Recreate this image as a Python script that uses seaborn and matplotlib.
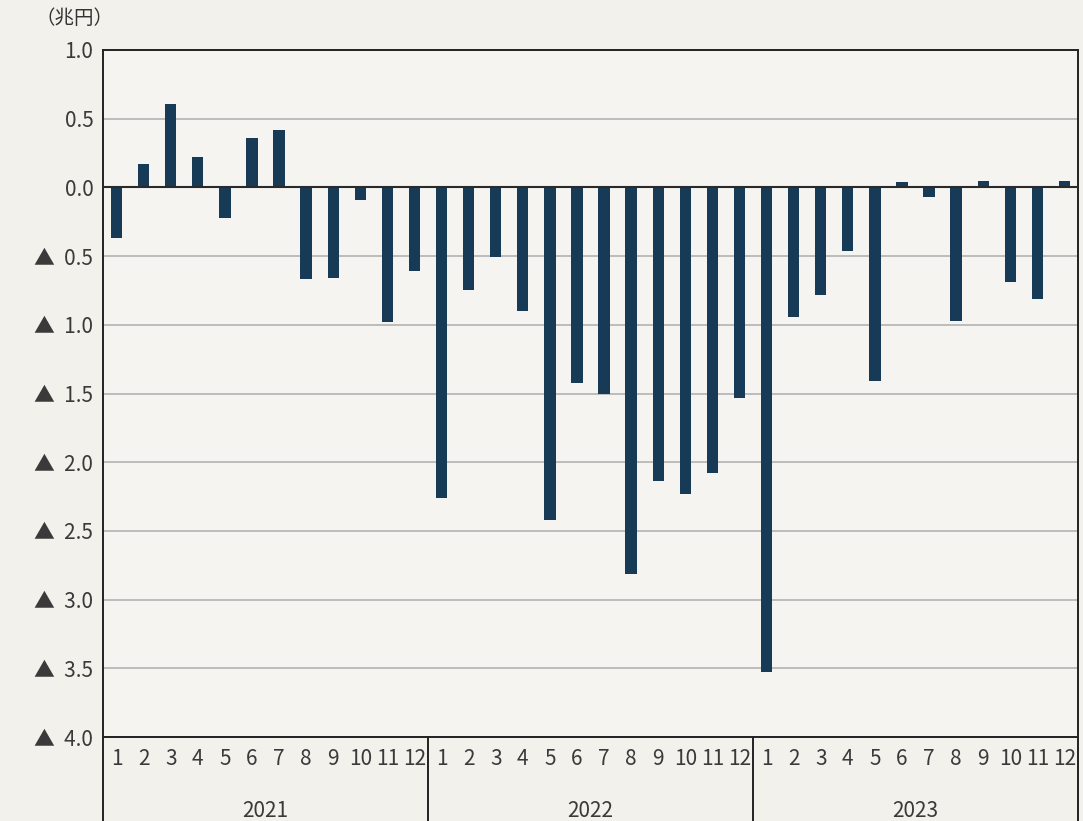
import numpy as np
import pandas as pd
import seaborn as sns
from matplotlib import pyplot as plt
from matplotlib import transforms

# monthly values (trillion yen), 2021-01 .. 2023-12
years = ['2021', '2022', '2023']
months = [str(m) for m in range(1, 13)]
v2021 = [-0.37, 0.17, 0.61, 0.22, -0.22, 0.36, 0.42, -0.67, -0.66, -0.09, -0.98, -0.61]
v2022 = [-2.26, -0.75, -0.51, -0.90, -2.42, -1.42, -1.50, -2.81, -2.14, -2.23, -2.08, -1.53]
v2023 = [-3.53, -0.94, -0.78, -0.46, -1.41, 0.04, -0.07, -0.97, 0.05, -0.69, -0.81, 0.05]
yticks = [1.0, 0.5, 0.0, -0.5, -1.0, -1.5, -2.0, -2.5, -3.0, -3.5, -4.0]

sns.set_theme(style='white')
plt.rcParams['font.family'] = ['Noto Sans CJK JP', 'DejaVu Sans']

df = pd.DataFrame({
    'idx': np.arange(36),
    'value': v2021 + v2022 + v2023,
})

bg = '#f2f1ec'
fig = plt.figure(figsize=(10.83, 8.21), dpi=100, facecolor=bg)
ax = fig.add_axes([0.0951, 0.1023, 0.9003, 0.8368])
ax.set_facecolor('#f5f4f0')

for y in yticks:
    ax.axhline(y, color='#b8b8b8', lw=1.3, zorder=0)

sns.barplot(data=df, x='idx', y='value', color='#173a56', saturation=1,
            width=0.42, linewidth=0, ax=ax, zorder=2)
ax.axhline(0, color='#2a2a2a', lw=1.5, zorder=3)

ax.set_xlim(-0.5, 35.5)
ax.set_ylim(-4.0, 1.0)
ax.set_yticks(yticks)
ylabels = []
for y in yticks:
    if y < 0:
        ylabels.append('▲  {:.1f}'.format(-y))
    else:
        ylabels.append('{:.1f}'.format(y))
ax.set_yticklabels(ylabels, fontsize=15, color='#3a3a3a')
ax.set_xticks(range(36))
ax.set_xticklabels(months * 3, fontsize=15, color='#3a3a3a')
ax.tick_params(axis='both', length=0)
ax.tick_params(axis='y', pad=7)
ax.tick_params(axis='x', pad=8)
ax.set_xlabel('')
ax.set_ylabel('')
for s in ax.spines.values():
    s.set_color('#222222')
    s.set_linewidth(1.4)

# year group labels and separators
trans = transforms.blended_transform_factory(ax.transData, ax.transAxes)
for i, yr in enumerate(years):
    ax.text(i * 12 + 5.5, -0.107, yr, transform=trans, ha='center', va='center',
            fontsize=15, color='#3a3a3a')
for b in [-0.5, 11.5, 23.5, 35.5]:
    ax.plot([b, b], [0, -0.2], transform=trans, color='#222222', lw=1.4,
            clip_on=False)

fig.text(0.033, 0.977, '（兆円）', fontsize=14, color='#333333', ha='left', va='center')

fig.savefig('out.png', dpi=100, facecolor=bg)
